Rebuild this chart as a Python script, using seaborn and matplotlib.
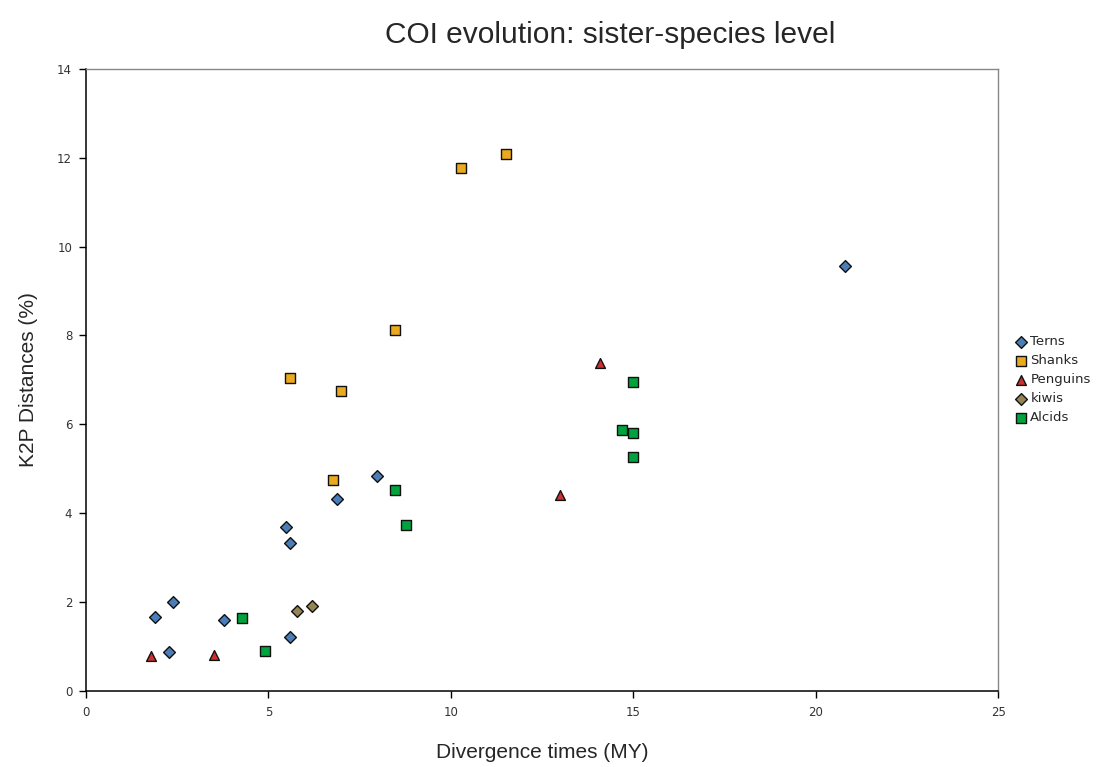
import matplotlib
matplotlib.use("Agg")
import matplotlib.pyplot as plt
import seaborn as sns
import pandas as pd

# values
terns_x = [1.90, 2.39, 2.28, 3.78, 5.58, 5.49, 5.58, 6.89, 7.98, 20.79]
terns_y = [1.67, 2.00, 0.87, 1.59, 1.20, 3.69, 3.33, 4.31, 4.83, 9.57]
shanks_x = [5.58, 6.98, 6.78, 8.48, 10.29, 11.50]
shanks_y = [7.05, 6.76, 4.75, 8.12, 11.78, 12.09]
penguins_x = [1.79, 3.51, 12.99, 14.08]
penguins_y = [0.77, 0.81, 4.41, 7.37]
kiwis_x = [5.78, 6.19]
kiwis_y = [1.80, 1.91]
alcids_x = [4.28, 4.90, 8.48, 8.78, 14.99, 14.70, 14.99, 14.99]
alcids_y = [1.64, 0.89, 4.53, 3.74, 6.95, 5.87, 5.80, 5.26]

groups = ["Terns", "Shanks", "Penguins", "kiwis", "Alcids"]
xs = [terns_x, shanks_x, penguins_x, kiwis_x, alcids_x]
ys = [terns_y, shanks_y, penguins_y, kiwis_y, alcids_y]

rows = []
for g, gx, gy in zip(groups, xs, ys):
    for a, b in zip(gx, gy):
        rows.append({"group": g, "time": a, "k2p": b})
df = pd.DataFrame(rows)

palette = {"Terns": "#4a7ebb", "Shanks": "#eaaa1e", "Penguins": "#cc3030",
           "kiwis": "#948558", "Alcids": "#00a33d"}
markers = {"Terns": "D", "Shanks": "s", "Penguins": "^", "kiwis": "D", "Alcids": "s"}

sns.set_style("white")
plt.rcParams["font.family"] = ["DejaVu Sans"]

fig = plt.figure(figsize=(11.09, 7.67), dpi=100)
ax = fig.add_axes([0.0776, 0.0995, 0.8224, 0.8105])

for g in groups:
    sub = df[df["group"] == g]
    size = {"D": 36, "s": 42, "^": 50}[markers[g]]
    sns.scatterplot(data=sub, x="time", y="k2p", ax=ax, color=palette[g],
                    marker=markers[g], s=size, edgecolor="#111111",
                    linewidth=1.0, label=g, zorder=3)

ax.set_xlim(0, 25)
ax.set_ylim(0, 14)
ax.set_xticks(range(0, 26, 5))
ax.set_yticks(range(0, 15, 2))
ax.tick_params(axis="both", direction="out", length=5, width=1, labelsize=8.5,
               labelcolor="#333333", color="black", left=True, bottom=True)
ax.tick_params(axis="x", pad=6)
ax.tick_params(axis="y", pad=5)
for side in ["left", "bottom"]:
    ax.spines[side].set_color("black")
    ax.spines[side].set_linewidth(1.1)
for side in ["top", "right"]:
    ax.spines[side].set_color("#888888")
    ax.spines[side].set_linewidth(1.0)

ax.set_xlabel("Divergence times (MY)", family="Liberation Sans", fontsize=15, labelpad=17)
ax.set_ylabel("K2P Distances (%)", family="Liberation Sans", fontsize=15, labelpad=14)

fig.text(0.55, 0.955, "COI evolution: sister-species level", family="Liberation Sans",
         fontsize=21.5, ha="center", va="center")

leg = ax.legend(loc="center left", bbox_to_anchor=(1.005, 0.5), frameon=False,
                fontsize=9.5, handletextpad=0.2, labelspacing=0.45, handlelength=1.0)

fig.savefig("out.png", dpi=100)
